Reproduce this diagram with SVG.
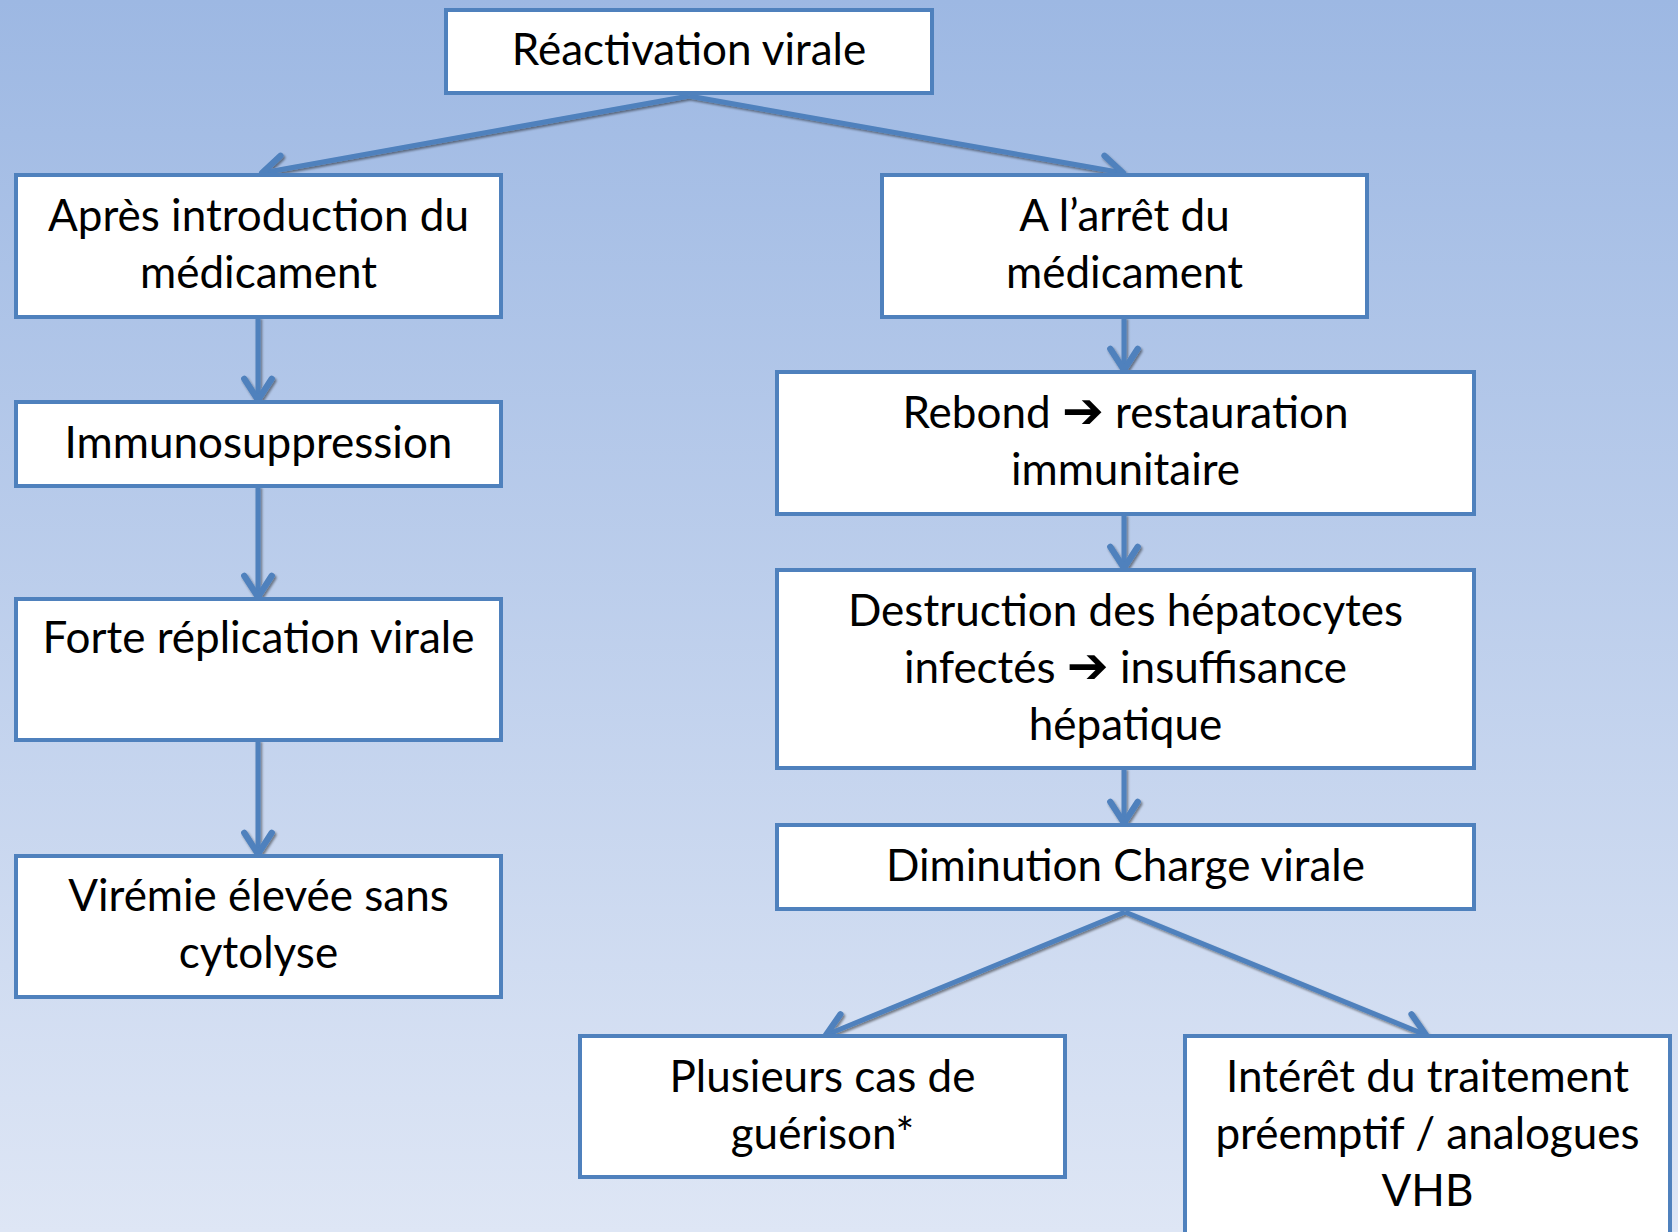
<svg xmlns="http://www.w3.org/2000/svg" width="1678" height="1232" viewBox="0 0 1678 1232">
  <defs>
    <linearGradient id="bg" x1="0" y1="0" x2="0" y2="1">
      <stop offset="0" stop-color="#9DB8E3"/>
      <stop offset="1" stop-color="#DEE6F5"/>
    </linearGradient>
    <filter id="shadow" x="-10%" y="-10%" width="120%" height="120%">
      <feDropShadow dx="1.5" dy="2" stdDeviation="1.2" flood-color="#000" flood-opacity="0.45"/>
    </filter>
    <marker id="arrow" markerUnits="userSpaceOnUse" markerWidth="40" markerHeight="40" viewBox="-24 -16 30 32" refX="0" refY="0" orient="auto">
      <path d="M-17,-11 L0,0 L-17,11" fill="none" stroke="#4F81BD" stroke-width="5" stroke-linecap="round" stroke-linejoin="round"/>
    </marker>
    <style>
      .box { fill: #FFFFFF; stroke: #4F81BD; stroke-width: 4; }
      .lbl { font-family: Lato, "Open Sans", "Noto Sans", sans-serif; font-size: 44px; fill: #000; text-anchor: middle; }
      .sym { font-family: "DejaVu Sans", sans-serif; font-weight: bold; font-size: 50px; }
      .conn { fill: none; stroke: #4F81BD; stroke-width: 5; marker-end: url(#arrow); }
    </style>
  </defs>
  <rect x="0" y="0" width="1678" height="1232" fill="url(#bg)"/>

  <g id="connectors" filter="url(#shadow)">
    <path class="conn" d="M689,96 L262,173"/>
    <path class="conn" d="M689,96 L1123,173"/>
    <path class="conn" d="M258,317 L258,400"/>
    <path class="conn" d="M258,486 L258,597"/>
    <path class="conn" d="M258,740 L258,854"/>
    <path class="conn" d="M1124,317 L1124,370"/>
    <path class="conn" d="M1124,514 L1124,568"/>
    <path class="conn" d="M1124,768 L1124,823"/>
    <path class="conn" d="M1125,912 L826,1035"/>
    <path class="conn" d="M1125,912 L1426,1035"/>
  </g>

  <g id="n-reactivation">
    <rect class="box" x="446" y="10" width="486" height="83"/>
    <text class="lbl" x="689" y="65">Réactivation virale</text>
  </g>
  <g id="n-apres">
    <rect class="box" x="16" y="175" width="485" height="142"/>
    <text class="lbl" x="258.5" y="231">Après introduction du</text>
    <text class="lbl" x="258.5" y="288">médicament</text>
  </g>
  <g id="n-immuno">
    <rect class="box" x="16" y="402" width="485" height="84"/>
    <text class="lbl" x="258.5" y="458">Immunosuppression</text>
  </g>
  <g id="n-forte">
    <rect class="box" x="16" y="599" width="485" height="141"/>
    <text class="lbl" x="258.5" y="653">Forte réplication virale</text>
  </g>
  <g id="n-viremie">
    <rect class="box" x="16" y="856" width="485" height="141"/>
    <text class="lbl" x="258.5" y="911">Virémie élevée sans</text>
    <text class="lbl" x="258.5" y="968">cytolyse</text>
  </g>
  <g id="n-arret">
    <rect class="box" x="882" y="175" width="485" height="142"/>
    <text class="lbl" x="1124.5" y="231">A l’arrêt du</text>
    <text class="lbl" x="1124.5" y="288">médicament</text>
  </g>
  <g id="n-rebond">
    <rect class="box" x="777" y="372" width="697" height="142"/>
    <text class="lbl" x="1125.5" y="428">Rebond <tspan class="sym">➔</tspan> restauration</text>
    <text class="lbl" x="1125.5" y="485">immunitaire</text>
  </g>
  <g id="n-destruction">
    <rect class="box" x="777" y="570" width="697" height="198"/>
    <text class="lbl" x="1125.5" y="626">Destruction des hépatocytes</text>
    <text class="lbl" x="1125.5" y="683">infectés <tspan class="sym">➔</tspan> insuffisance</text>
    <text class="lbl" x="1125.5" y="740">hépatique</text>
  </g>
  <g id="n-diminution">
    <rect class="box" x="777" y="825" width="697" height="84"/>
    <text class="lbl" x="1125.5" y="881">Diminution Charge virale</text>
  </g>
  <g id="n-plusieurs">
    <rect class="box" x="580" y="1036" width="485" height="141"/>
    <text class="lbl" x="822.5" y="1092">Plusieurs cas de</text>
    <text class="lbl" x="822.5" y="1149">guérison*</text>
  </g>
  <g id="n-interet">
    <rect class="box" x="1185" y="1036" width="485" height="230"/>
    <text class="lbl" x="1427.5" y="1092">Intérêt du traitement</text>
    <text class="lbl" x="1427.5" y="1149">préemptif / analogues</text>
    <text class="lbl" x="1427.5" y="1206">VHB</text>
  </g>
</svg>
